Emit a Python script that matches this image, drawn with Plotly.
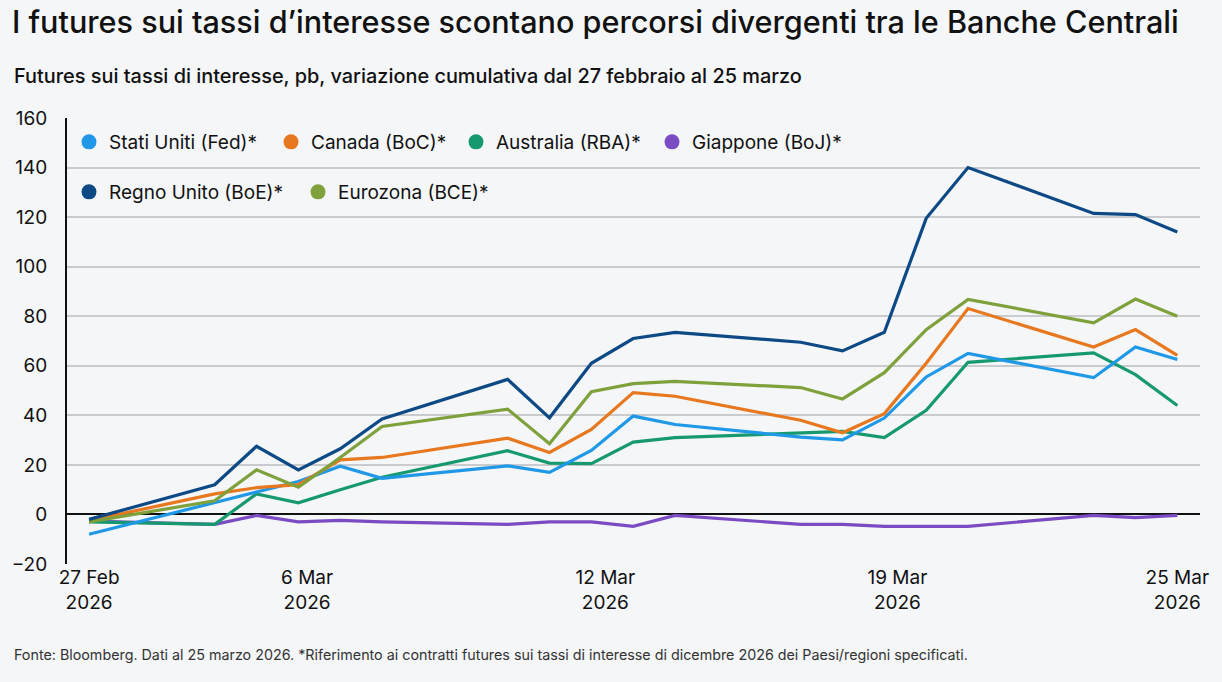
import plotly.graph_objects as go

dates = ["2026-02-27", "2026-03-02", "2026-03-03", "2026-03-04", "2026-03-05", "2026-03-06",
         "2026-03-09", "2026-03-10", "2026-03-11", "2026-03-12", "2026-03-13",
         "2026-03-16", "2026-03-17", "2026-03-18", "2026-03-19", "2026-03-20",
         "2026-03-23", "2026-03-24", "2026-03-25"]

fed = [-8, 4.6, 9, 13.3, 19.5, 14.6, 19.6, 17, 25.8, 39.7, 36.3, 31.2, 30.1, 38.9, 55.5, 65, 55.2, 67.6, 62.5]
boc = [-2.5, 8.3, 10.8, 12, 22, 23, 30.8, 25, 34.3, 49.2, 47.7, 38, 33, 40.7, 61, 83.1, 67.6, 74.6, 64.2]
rba = [-3, -4, 8.3, 4.7, 10, 15, 25.7, 20.7, 20.5, 29.2, 31, 32.8, 33.5, 31, 42, 61.4, 65.2, 56.4, 44]
boj = [-2.7, -4, -0.4, -3, -2.4, -3, -4, -3, -3, -4.8, -0.4, -4, -4, -4.8, -4.8, -4.8, -0.4, -1.3, -0.4]
boe = [-2, 12, 27.5, 18, 26.5, 38.5, 54.5, 39, 61, 71, 73.5, 69.5, 66, 73.5, 119.5, 140, 121.5, 121, 114]
bce = [-3, 5.5, 18, 11, 23, 35.5, 42.5, 28.5, 49.5, 52.8, 53.7, 51.2, 46.6, 57.2, 74.6, 86.8, 77.3, 86.9, 80]

names = ["Stati Uniti (Fed)*", "Canada (BoC)*", "Australia (RBA)*", "Giappone (BoJ)*",
         "Regno Unito (BoE)*", "Eurozona (BCE)*"]
series = [fed, boc, rba, boj, boe, bce]
colors = ["#1F98E8", "#E8781F", "#17996F", "#7A4BC2", "#0D4A85", "#7FA13C"]

y_ticks = [-20, 0, 20, 40, 60, 80, 100, 120, 140, 160]
x_tickvals = ["2026-02-27", "2026-03-04 05:00", "2026-03-11 08:00", "2026-03-18 07:30", "2026-03-25"]
x_ticktext = ["27 Feb<br>2026", "6 Mar<br>2026", "12 Mar<br>2026", "19 Mar<br>2026", "25 Mar<br>2026"]

FONT = "Inter"
W, H = 1222, 682
L, R, T, B = 67, 22, 118, 118
pw = W - L - R
ph = H - T - B

fig = go.Figure()
draw_order = [3, 2, 0, 1, 5, 4]
for i in draw_order:
    fig.add_trace(go.Scatter(x=dates, y=series[i], mode="lines", name=names[i],
                             line=dict(color=colors[i], width=3.2), showlegend=False))

# legend entries (circle markers), each in its own legend box
leg_pos = [(90, 142), (292, 142), (477, 142), (673, 142), (90, 192), (319, 192)]
legend_keys = ["legend", "legend2", "legend3", "legend4", "legend5", "legend6"]
for i in range(6):
    fig.add_trace(go.Scatter(x=[None], y=[None], mode="markers", name=names[i],
                             marker=dict(color=colors[i], size=15, symbol="circle"),
                             legend=legend_keys[i], showlegend=True))

layout_legends = {}
for i, key in enumerate(legend_keys):
    mx, my = leg_pos[i]
    layout_legends[key] = dict(
        x=(mx - 21 - L) / pw, y=(H - B - my) / ph, xanchor="left", yanchor="middle",
        bgcolor="rgba(0,0,0,0)", borderwidth=0,
        font=dict(family=FONT, size=19, color="#111111"),
        itemsizing="trace",
    )

fig.update_layout(
    width=W, height=H,
    margin=dict(l=L, r=R, t=T, b=B),
    paper_bgcolor="#F4F6F8", plot_bgcolor="#F4F6F8",
    title=dict(text="I futures sui tassi d’interesse scontano percorsi divergenti tra le Banche Centrali",
               x=12 / W, xanchor="left", xref="container", y=1 - 22 / H, yref="container", yanchor="middle",
               font=dict(family=FONT, size=30.6, color="#111111", weight=500)),
    xaxis=dict(type="date", range=["2026-02-26 11:20", "2026-03-25 13:00"],
               tickmode="array", tickvals=x_tickvals, ticktext=x_ticktext,
               showgrid=False, zeroline=False, showline=False, ticks="",
               tickfont=dict(family=FONT, size=19, color="#111111")),
    yaxis=dict(range=[-20, 160], tickmode="array", tickvals=y_ticks,
               showgrid=True, gridcolor="#C9CBCE", gridwidth=1.5,
               zeroline=True, zerolinecolor="#111111", zerolinewidth=1.5,
               showline=True, linecolor="#111111", linewidth=2, ticks="",
               ticklabelstandoff=14,
               tickfont=dict(family=FONT, size=19, color="#111111")),
    annotations=[
        dict(text="Futures sui tassi di interesse, pb, variazione cumulativa dal 27 febbraio al 25 marzo",
             xref="paper", yref="paper", x=(12 - L) / pw, y=(H - B - 76) / ph,
             xanchor="left", yanchor="middle", showarrow=False,
             font=dict(family=FONT, size=19.9, color="#111111", weight=500)),
        dict(text="Fonte: Bloomberg. Dati al 25 marzo 2026. *Riferimento ai contratti futures sui tassi di interesse di dicembre 2026 dei Paesi/regioni specificati.",
             xref="paper", yref="paper", x=(12 - L) / pw, y=(H - B - 655) / ph,
             xanchor="left", yanchor="middle", showarrow=False,
             font=dict(family=FONT, size=14.3, color="#333333")),
    ],
    showlegend=True,
    **layout_legends,
)

fig.write_html("out.html")
